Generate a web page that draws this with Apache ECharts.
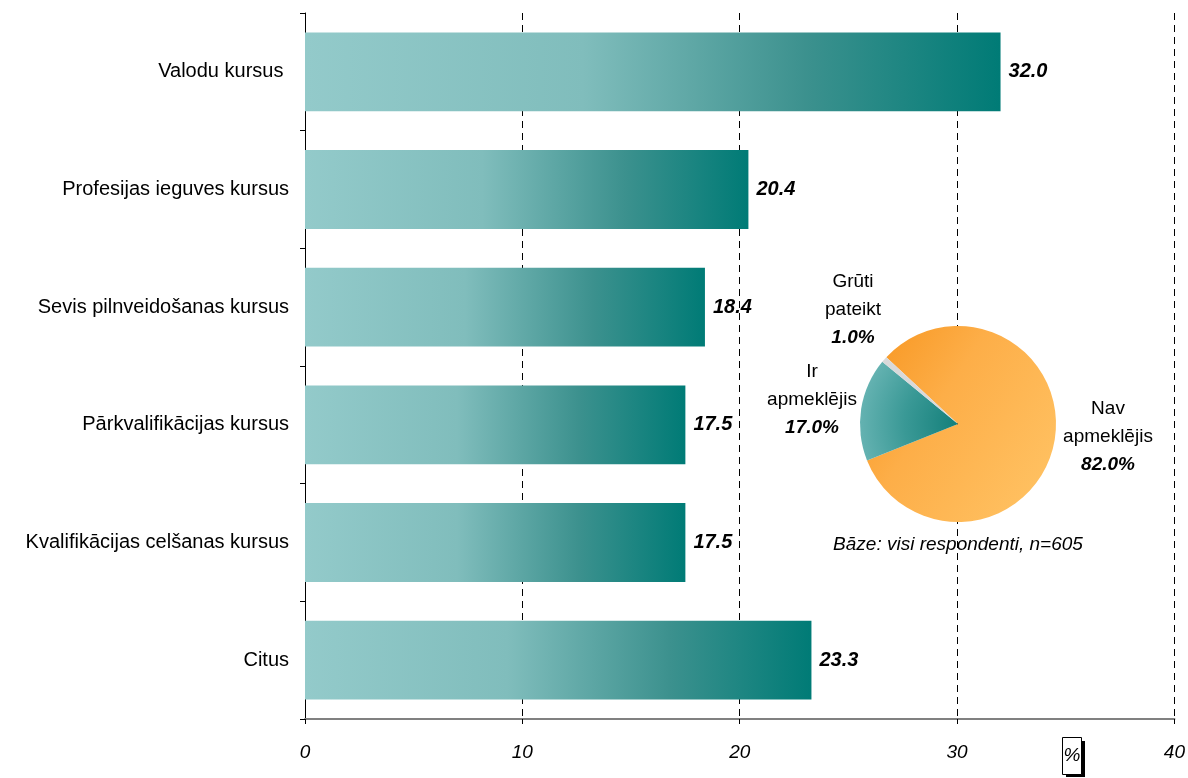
<!DOCTYPE html>
<html><head><meta charset="utf-8">
<script src="https://cdn.jsdelivr.net/npm/echarts@6/dist/echarts.min.js"></script>
<style>html,body{margin:0;padding:0;background:#fff}#c{width:1188px;height:778px}</style>
</head><body><div id="c"></div>
<script>
const categories = ['Valodu kursus ', 'Profesijas ieguves kursus', 'Sevis pilnveidošanas kursus', 'Pārkvalifikācijas kursus', 'Kvalifikācijas celšanas kursus', 'Citus'];
const values = [32.0, 20.4, 18.4, 17.5, 17.5, 23.3];
const xTicks = [0, 10, 20, 30, 40];
const pieNames = ['Nav\napmeklējis', 'Ir\napmeklējis', 'Grūti\npateikt'];
const pieValues = [82.0, 17.0, 1.0];
const baseNote = 'Bāze: visi respondenti, n=605';
const unitLabel = '%';

const FONT = '"Liberation Sans", Arial, sans-serif';
const chart = echarts.init(document.getElementById('c'));

const pieColors = [
  new echarts.graphic.LinearGradient(860, 330, 1056, 460, [{offset: 0, color: '#F7941D'}, {offset: 0.45, color: '#FDAE48'}, {offset: 1, color: '#FFC060'}], true),
  new echarts.graphic.RadialGradient(958, 424, 98, [{offset: 0, color: '#137F7A'}, {offset: 0.55, color: '#3A9996'}, {offset: 1, color: '#64B2B1'}], true),
  '#D9D9D9'
];
const pieLabelPos = [
  {x: 1108, y: 437},
  {x: 812, y: 400},
  {x: 853, y: 310}
];

chart.setOption({
  backgroundColor: '#fff',
  animation: false,
  textStyle: {fontFamily: FONT},
  grid: {left: 305, right: 10, top: 13, bottom: 59, containLabel: false},
  xAxis: {
    type: 'value', min: 0, max: 40, interval: 10,
    axisLine: {show: true, lineStyle: {color: '#808080', width: 2}},
    axisTick: {show: true, length: 5, lineStyle: {color: '#000'}},
    axisLabel: {fontSize: 19, fontStyle: 'italic', color: '#000', margin: 24, fontFamily: FONT,
      formatter: v => xTicks.includes(v) ? String(v) : ''},
    splitLine: {show: true, lineStyle: {color: '#000', type: [7, 5], width: 1}}
  },
  yAxis: {
    type: 'category', data: categories, inverse: true,
    axisLine: {show: true, lineStyle: {color: '#000', width: 1}},
    axisTick: {show: true, length: 5, lineStyle: {color: '#000'}},
    axisLabel: {fontSize: 20, color: '#000', margin: 16, fontFamily: FONT},
    splitLine: {show: false}
  },
  series: [
    {
      type: 'bar', data: values, barCategoryGap: '33%',
      itemStyle: {color: new echarts.graphic.LinearGradient(0, 0, 1, 0, [
        {offset: 0, color: '#93CACA'}, {offset: 0.4, color: '#80BDBC'}, {offset: 0.72, color: '#3C918E'}, {offset: 1, color: '#007B76'}])},
      label: {show: true, position: 'right', distance: 8, formatter: p => p.value.toFixed(1),
        fontSize: 20, fontWeight: 'bold', fontStyle: 'italic', color: '#000', fontFamily: FONT}
    },
    {
      type: 'pie', center: [958, 424], radius: 98, startAngle: 137, clockwise: true,
      data: pieNames.map((n, i) => ({name: n, value: pieValues[i], itemStyle: {color: pieColors[i]}})),
      itemStyle: {borderWidth: 0},
      labelLine: {show: false},
      label: {
        show: true, position: 'outside', align: 'center', overflow: 'none', width: 200,
        formatter: p => p.name + '\n{b|' + p.value.toFixed(1) + '%}',
        fontSize: 19, lineHeight: 28, color: '#000', fontFamily: FONT,
        rich: {b: {fontSize: 19, fontWeight: 'bold', fontStyle: 'italic', lineHeight: 28, color: '#000', fontFamily: FONT}}
      },
      labelLayout: p => ({x: pieLabelPos[p.dataIndex].x, y: pieLabelPos[p.dataIndex].y, align: 'center', verticalAlign: 'middle'}),
      emphasis: {disabled: true}
    }
  ],
  graphic: [
    {type: 'text', x: 958, y: 545, style: {text: baseNote, fontSize: 19, fontStyle: 'italic', fill: '#000', align: 'center', verticalAlign: 'middle', fontFamily: FONT}},
    {type: 'rect', shape: {x: 1066, y: 741, width: 19, height: 36}, style: {fill: '#000'}},
    {type: 'rect', shape: {x: 1062.5, y: 737.5, width: 19, height: 37}, style: {fill: '#fff', stroke: '#000', lineWidth: 1}},
    {type: 'text', x: 1072, y: 756, style: {text: unitLabel, fontSize: 19, fontStyle: 'italic', fill: '#000', align: 'center', verticalAlign: 'middle', fontFamily: FONT}}
  ]
});
</script></body></html>
